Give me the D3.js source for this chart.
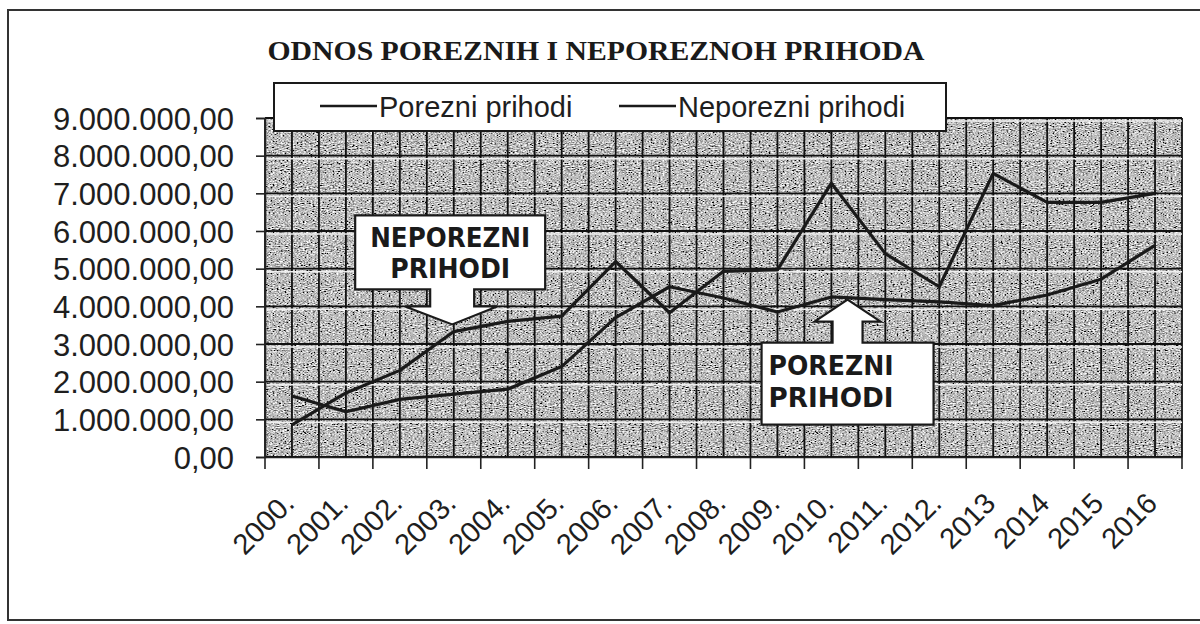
<!DOCTYPE html>
<html>
<head>
<meta charset="utf-8">
<script src="https://cdn.jsdelivr.net/npm/d3@7"></script>
<style>
  body { margin: 0; background: #fff; }
  svg { display: block; }
</style>
</head>
<body>
<svg id="chart"></svg>
<script>
// values
const years = ['2000.', '2001.', '2002.', '2003.', '2004.', '2005.', '2006.', '2007.', '2008.',
               '2009.', '2010.', '2011.', '2012.', '2013', '2014', '2015', '2016'];
const porezni = [1620000, 1200000, 1530000, 1670000, 1800000, 2400000, 3700000, 4520000, 4220000,
                 3850000, 4250000, 4180000, 4120000, 4020000, 4300000, 4720000, 5620000];
const neporezni = [850000, 1700000, 2300000, 3330000, 3600000, 3740000, 5190000, 3830000, 4930000,
                   4970000, 7270000, 5400000, 4520000, 7530000, 6760000, 6760000, 7000000];
const yTicks = [0, 1000000, 2000000, 3000000, 4000000, 5000000, 6000000, 7000000, 8000000, 9000000];
const seriesNames = ['Porezni prihodi', 'Neporezni prihodi'];
const title = 'ODNOS POREZNIH I NEPOREZNOH PRIHODA';

class LineChart {

    constructor(config) {
        this.config = {
            parent: config.parent,
            width: config.width || 1200,
            height: config.height || 624,
            margin: config.margin || {top: 118, right: 18, bottom: 167, left: 265}
        };
        this.init();
    }

    init() {
        let self = this;
        self.svg = d3.select(self.config.parent)
            .attr('width', self.config.width)
            .attr('height', self.config.height);

        self.inner_width = self.config.width - self.config.margin.left - self.config.margin.right;
        self.inner_height = self.config.height - self.config.margin.top - self.config.margin.bottom;

        self.chart = self.svg.append('g')
            .attr('transform', `translate(${self.config.margin.left}, ${self.config.margin.top})`);

        self.xscale = d3.scaleBand()
            .domain(years)
            .range([0, self.inner_width]);
        self.yscale = d3.scaleLinear()
            .domain([0, 9000000])
            .range([self.inner_height, 0]);

        const locale = d3.formatLocale({decimal: ',', thousands: '.', grouping: [3], currency: ['', '']});
        self.fmt = locale.format(',.2f');

        self.cx = d => self.xscale(d) + self.xscale.bandwidth() / 2;
        self.line = d3.line()
            .x((d, i) => self.cx(years[i]))
            .y(d => self.yscale(d));
    }

    render() {
        let self = this;
        const defs = self.svg.append('defs');
        const f = defs.append('filter').attr('id', 'scan')
            .attr('x', 0).attr('y', 0).attr('width', 1).attr('height', 1);
        f.append('feTurbulence').attr('type', 'fractalNoise')
            .attr('baseFrequency', '0.5 0.95').attr('numOctaves', 2).attr('seed', 7);
        f.append('feColorMatrix').attr('type', 'matrix')
            .attr('values', '0.33 0.33 0.33 0 0  0.33 0.33 0.33 0 0  0.33 0.33 0.33 0 0  0 0 0 0 1');
        const ct = f.append('feComponentTransfer');
        ['feFuncR', 'feFuncG', 'feFuncB'].forEach(n =>
            ct.append(n).attr('type', 'linear').attr('slope', 3.6).attr('intercept', -1.28));

        // outer frame of the scanned figure
        self.svg.append('path')
            .attr('d', 'M1210,10 L8,10 L8,620 L1210,620')
            .attr('fill', 'none').attr('stroke', '#333').attr('stroke-width', 2);

        // gray textured plot area
        self.chart.append('rect')
            .attr('width', self.inner_width).attr('height', self.inner_height)
            .attr('fill', '#8a8a8a').attr('filter', 'url(#scan)');

        // grid
        const bw = self.xscale.bandwidth();
        const vx = years.flatMap(d => [self.xscale(d), self.xscale(d) + bw / 2]).concat([self.inner_width]);
        self.chart.append('g').selectAll('line').data(vx).join('line')
            .attr('x1', d => d).attr('x2', d => d)
            .attr('y1', 0).attr('y2', self.inner_height)
            .attr('stroke', '#111').attr('stroke-width', 1.8);
        self.chart.append('g').selectAll('line').data(yTicks.slice(1)).join('line')
            .attr('x1', 0).attr('x2', self.inner_width)
            .attr('y1', d => self.yscale(d) + 3).attr('y2', d => self.yscale(d) + 3)
            .attr('stroke', '#eee').attr('stroke-width', 1.5);
        self.chart.append('g').selectAll('line').data(yTicks).join('line')
            .attr('x1', 0).attr('x2', self.inner_width)
            .attr('y1', d => self.yscale(d)).attr('y2', d => self.yscale(d))
            .attr('stroke', '#111').attr('stroke-width', 1.8);

        // y axis
        const yaxis = d3.axisLeft(self.yscale)
            .tickValues(yTicks).tickSize(9).tickPadding(22).tickFormat(self.fmt);
        const yg = self.chart.append('g').call(yaxis);
        yg.select('.domain').attr('stroke', '#222').attr('stroke-width', 1.6);
        yg.selectAll('.tick line').attr('stroke', '#222').attr('stroke-width', 1.6);
        yg.selectAll('text')
            .style('font-family', '"Liberation Sans", Arial, sans-serif')
            .style('font-size', '31px').attr('fill', '#1e1e1e').attr('dy', '0.36em');

        // x axis: labels at category centres, ticks between categories
        const xaxis = d3.axisBottom(self.xscale).tickSize(0).tickPadding(0);
        const xg = self.chart.append('g')
            .attr('transform', `translate(0, ${self.inner_height})`)
            .call(xaxis);
        xg.select('.domain').attr('stroke', '#222').attr('stroke-width', 1.6);
        xg.selectAll('text')
            .attr('y', 0).attr('dy', 0).attr('x', 0)
            .attr('text-anchor', 'end')
            .attr('transform', 'translate(4, 48) rotate(-45)')
            .style('font-family', '"Liberation Sans", Arial, sans-serif')
            .style('font-size', '29px').attr('fill', '#1e1e1e');
        xg.append('g').selectAll('line')
            .data(years.map(d => self.xscale(d)).concat([self.inner_width])).join('line')
            .attr('x1', d => d).attr('x2', d => d).attr('y1', 0).attr('y2', 12)
            .attr('stroke', '#222').attr('stroke-width', 1.6);

        // series
        [porezni, neporezni].forEach(s => {
            self.chart.append('path')
                .attr('d', self.line(s))
                .attr('fill', 'none')
                .attr('stroke', '#1a1a1a')
                .attr('stroke-width', 3.2)
                .attr('stroke-linejoin', 'round');
        });

        // callouts with arrows, tips anchored in data space
        const callout = (tipYear, tipValue, pts, lines, anchor, tx, ty) => {
            const t = [self.cx(years[0]) + tipYear * self.xscale.step(), self.yscale(tipValue)];
            const g = self.chart.append('g').attr('transform', `translate(${t[0]}, ${t[1]})`);
            g.append('polygon')
                .attr('points', pts.map(p => p.join(',')).join(' '))
                .attr('fill', '#fff').attr('stroke', '#1a1a1a').attr('stroke-width', 2.2);
            lines.forEach((l, i) => {
                g.append('text')
                    .attr('x', tx).attr('y', ty[i])
                    .attr('text-anchor', anchor)
                    .attr('textLength', l.w).attr('lengthAdjust', 'spacingAndGlyphs')
                    .style('font-family', '"DejaVu Sans", Verdana, sans-serif')
                    .style('font-weight', 'bold').style('font-size', '27px')
                    .attr('fill', '#1a1a1a')
                    .text(l.t);
            });
        };
        callout(2.97, 3520000,
            [[-97, -109], [93, -109], [93, -35], [22, -35], [22, -18], [45, -18], [0, 0],
             [-47, -18], [-22, -18], [-22, -35], [-97, -35]],
            [{t: 'NEPOREZNI', w: 160}, {t: 'PRIHODI', w: 120}], 'middle', -2, [-77, -46]);
        callout(10.3, 4180000,
            [[0, 0], [33, 22], [15, 22], [15, 43], [86, 43], [86, 125], [-86, 125], [-86, 43],
             [-15, 43], [-15, 22], [-33, 22]],
            [{t: 'POREZNI', w: 125}, {t: 'PRIHODI', w: 125}], 'start', -79, [75, 107]);

        // legend box, overlapping the top of the plot
        const lg = self.svg.append('g');
        lg.append('rect')
            .attr('x', 274).attr('y', 83).attr('width', 672).attr('height', 48)
            .attr('fill', '#fff').attr('stroke', '#1a1a1a').attr('stroke-width', 2);
        const items = [{x: 320}, {x: 619}];
        seriesNames.forEach((name, i) => {
            lg.append('line')
                .attr('x1', items[i].x).attr('x2', items[i].x + 57)
                .attr('y1', 106).attr('y2', 106)
                .attr('stroke', '#1a1a1a').attr('stroke-width', 2.5);
            lg.append('text')
                .attr('x', items[i].x + 59).attr('y', 117)
                .style('font-family', '"Liberation Sans", Arial, sans-serif')
                .style('font-size', '29px').attr('fill', '#1e1e1e')
                .text(name);
        });

        // title
        self.svg.append('text')
            .attr('x', 596).attr('y', 60)
            .attr('text-anchor', 'middle')
            .attr('textLength', 657).attr('lengthAdjust', 'spacingAndGlyphs')
            .style('font-family', '"Liberation Serif", "Times New Roman", serif')
            .style('font-weight', 'bold').style('font-size', '27px')
            .attr('fill', '#1a1a1a')
            .text(title);
    }
}

const chart = new LineChart({parent: '#chart'});
chart.render();
</script>
</body>
</html>
